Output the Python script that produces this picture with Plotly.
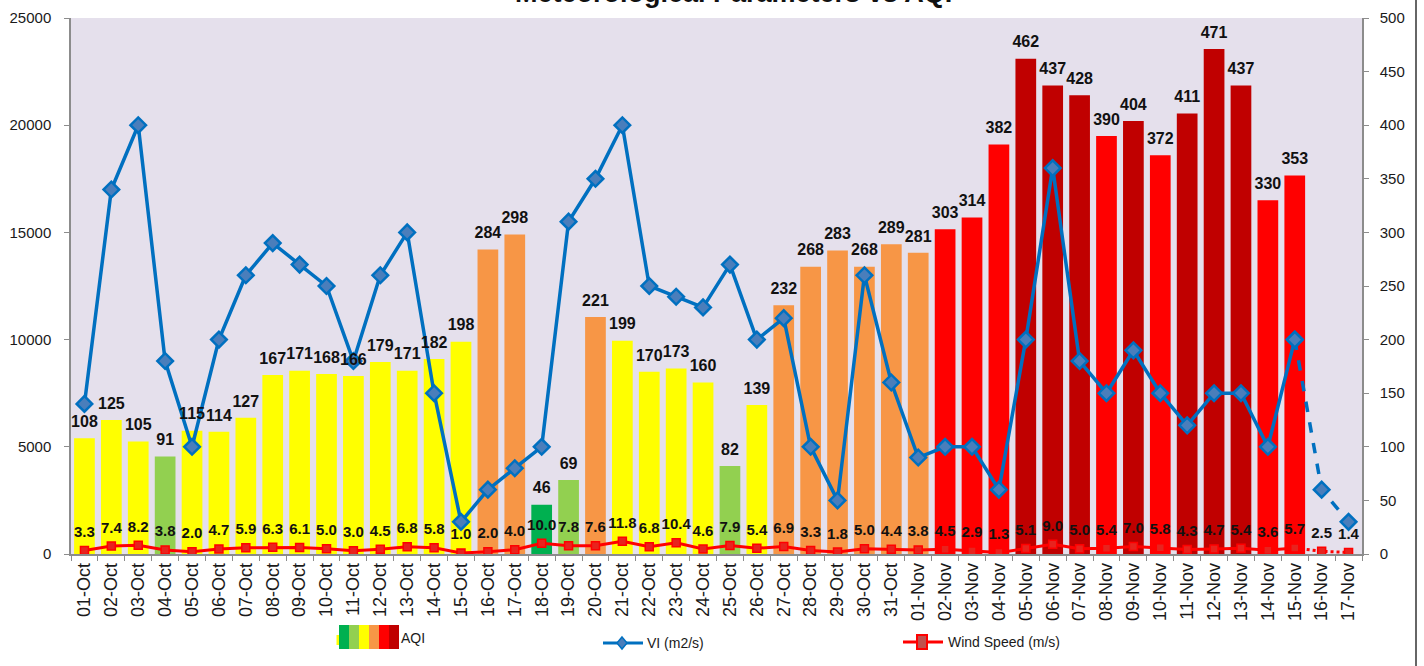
import plotly.graph_objects as go

# ---------------- data ----------------
dates = ["01-Oct", "02-Oct", "03-Oct", "04-Oct", "05-Oct", "06-Oct", "07-Oct", "08-Oct",
         "09-Oct", "10-Oct", "11-Oct", "12-Oct", "13-Oct", "14-Oct", "15-Oct", "16-Oct",
         "17-Oct", "18-Oct", "19-Oct", "20-Oct", "21-Oct", "22-Oct", "23-Oct", "24-Oct",
         "25-Oct", "26-Oct", "27-Oct", "28-Oct", "29-Oct", "30-Oct", "31-Oct",
         "01-Nov", "02-Nov", "03-Nov", "04-Nov", "05-Nov", "06-Nov", "07-Nov", "08-Nov",
         "09-Nov", "10-Nov", "11-Nov", "12-Nov", "13-Nov", "14-Nov", "15-Nov", "16-Nov",
         "17-Nov"]

aqi = [108, 125, 105, 91, 115, 114, 127, 167, 171, 168, 166, 179, 171, 182, 198, 284,
       298, 46, 69, 221, 199, 170, 173, 160, 82, 139, 232, 268, 283, 268, 289,
       281, 303, 314, 382, 462, 437, 428, 390, 404, 372, 411, 471, 437, 330, 353]

vi = [7000, 17000, 20000, 9000, 5000, 10000, 13000, 14500, 13500, 12500, 9000, 13000,
      15000, 7500, 1500, 3000, 4000, 5000, 15500, 17500, 20000, 12500, 12000, 11500,
      13500, 10000, 11000, 5000, 2500, 13000, 8000,
      4500, 5000, 5000, 3000, 10000, 18000, 9000, 7500, 9500, 7500, 6000, 7500, 7500,
      5000, 10000, 3000, 1500]

wind = [3.3, 7.4, 8.2, 3.8, 2.0, 4.7, 5.9, 6.3, 6.1, 5.0, 3.0, 4.5, 6.8, 5.8, 1.0, 2.0,
        4.0, 10.0, 7.8, 7.6, 11.8, 6.8, 10.4, 4.6, 7.9, 5.4, 6.9, 3.3, 1.8, 5.0, 4.4,
        3.8, 4.5, 2.9, 1.3, 5.1, 9.0, 5.0, 5.4, 7.0, 5.8, 4.3, 4.7, 5.4, 3.6, 5.7, 2.5, 1.4]

aqi_band_colors = ["#00B050", "#92D050", "#FFFF00", "#F79646", "#FF0000", "#C00000"]
aqi_band_limits = [50, 100, 200, 300, 400, 500]

title_text = "Meteorological Parameters vs AQI"

# ---------------- styling helpers ----------------
W, H = 1424, 666
L, R, T, B = 71, 62, 18, 112
PW, PH = W - L - R, H - T - B


def px_x(px):
    return (px - L) / PW


def px_y(py):
    return (H - B - py) / PH


def band_color(v):
    for lim, c in zip(aqi_band_limits, aqi_band_colors):
        if v <= lim:
            return c
    return aqi_band_colors[-1]


n_solid = len(aqi)  # observed AQI days; forecast after that

fig = go.Figure()

# AQI bars (right axis -> yaxis)
fig.add_trace(go.Bar(
    x=dates[:n_solid], y=aqi, yaxis="y",
    marker=dict(color=[band_color(v) for v in aqi], line=dict(width=0)),
    showlegend=False, hoverinfo="x+y", name="AQI"))

# Wind speed (right axis)
fig.add_trace(go.Scatter(
    x=dates[:n_solid], y=wind[:n_solid], yaxis="y", mode="lines+markers",
    line=dict(color="#FF0000", width=3),
    marker=dict(symbol="square", size=8, color="#E8231E", line=dict(color="#FF0000", width=1.5)),
    showlegend=False, name="Wind Speed (m/s)"))
fig.add_trace(go.Scatter(
    x=dates[n_solid - 1:], y=wind[n_solid - 1:], yaxis="y", mode="lines+markers",
    line=dict(color="#FF0000", width=3, dash="dot"),
    marker=dict(symbol="square", size=8, color="#E8231E", line=dict(color="#FF0000", width=1.5)),
    showlegend=False, name="Wind Speed (m/s)"))

# VI (left axis -> yaxis2)
fig.add_trace(go.Scatter(
    x=dates[:n_solid], y=vi[:n_solid], yaxis="y2", mode="lines+markers",
    line=dict(color="#0070C0", width=3.5),
    marker=dict(symbol="diamond", size=12, color="#4A7EBB", line=dict(color="#0070C0", width=2.5)),
    showlegend=False, name="VI (m2/s)"))
fig.add_trace(go.Scatter(
    x=dates[n_solid - 1:], y=vi[n_solid - 1:], yaxis="y2", mode="lines+markers",
    line=dict(color="#0070C0", width=3.5, dash="dash"),
    marker=dict(symbol="diamond", size=12, color="#4A7EBB", line=dict(color="#0070C0", width=2.5)),
    showlegend=False, name="VI (m2/s)"))

# Labels (top layer, yaxis3 same scale as AQI)
fig.add_trace(go.Scatter(
    x=dates[:n_solid], y=aqi, yaxis="y3", mode="markers+text",
    text=[str(v) for v in aqi], textposition="top center",
    textfont=dict(family="Liberation Sans", size=16, color="#111111", weight="bold"),
    marker=dict(size=10, opacity=0), cliponaxis=False,
    showlegend=False, hoverinfo="skip"))
fig.add_trace(go.Scatter(
    x=dates, y=wind, yaxis="y3", mode="markers+text",
    text=["%.1f" % v for v in wind], textposition="top center",
    textfont=dict(family="Liberation Sans", size=15, color="#111111", weight="bold"),
    marker=dict(size=14, opacity=0), cliponaxis=False,
    showlegend=False, hoverinfo="skip"))

axis_line = "#8C8C8C"
tick_font = dict(family="Liberation Sans", size=15, color="#1A1A1A")

fig.update_layout(
    width=W, height=H,
    margin=dict(l=L, r=R, t=T, b=B, pad=0, autoexpand=False),
    paper_bgcolor="white", plot_bgcolor="#E5E0EC",
    bargap=0.23,
    showlegend=False,
    xaxis=dict(type="category", categoryorder="array", categoryarray=dates,
               range=[-0.5, len(dates) - 0.5], automargin=False,
               showgrid=False, zeroline=False, showline=True, linecolor=axis_line, linewidth=1.5,
               ticks="outside", tickson="boundaries", ticklen=5, tickcolor=axis_line,
               tickangle=-90, tickfont=dict(family="Liberation Sans", size=18, color="#1A1A1A")),
    yaxis=dict(range=[0, 500], dtick=50, side="right", showgrid=False, zeroline=False,
               showline=True, linecolor=axis_line, linewidth=1.5, ticks="outside", ticklen=5,
               tickcolor=axis_line, tickfont=tick_font, ticklabelstandoff=8, tickformat="d",
               automargin=False),
    yaxis2=dict(range=[0, 25000], dtick=5000, side="left", overlaying="y", showgrid=False,
                zeroline=False, showline=True, linecolor=axis_line, linewidth=1.5,
                ticks="outside", ticklen=5, tickcolor=axis_line, tickfont=tick_font,
                ticklabelstandoff=10, tickformat="d", automargin=False),
    yaxis3=dict(range=[0, 500], overlaying="y", visible=False),
)

# Title (partly cut at top, as in the reference)
annotations = [dict(text="<b>" + title_text + "</b>", xref="paper", yref="paper",
                    x=px_x(733), y=px_y(-7.5), xanchor="center", yanchor="middle",
                    showarrow=False, font=dict(family="Liberation Sans", size=27, color="#111111"))]

legend_font = dict(family="Liberation Sans", size=14, color="#1A1A1A")
shapes = []

# AQI legend: colour strip
shapes.append(dict(type="rect", xref="paper", yref="paper",
                   x0=px_x(336.5), x1=px_x(339.5), y0=px_y(645), y1=px_y(635),
                   fillcolor="#FFFF00", line=dict(width=0)))
for i, c in enumerate(aqi_band_colors):
    shapes.append(dict(type="rect", xref="paper", yref="paper",
                       x0=px_x(339 + 10 * i), x1=px_x(349 + 10 * i), y0=px_y(649), y1=px_y(625),
                       fillcolor=c, line=dict(width=0)))
annotations.append(dict(text="AQI", xref="paper", yref="paper", x=px_x(399), y=px_y(638),
                        xanchor="left", yanchor="middle", showarrow=False, font=legend_font))

# VI legend
shapes.append(dict(type="line", xref="paper", yref="paper", x0=px_x(603), x1=px_x(643),
                   y0=px_y(643), y1=px_y(643), line=dict(color="#0070C0", width=3)))
cx, cy = 622, 643
shapes.append(dict(type="path", xref="paper", yref="paper",
                   path="M %f %f L %f %f L %f %f L %f %f Z" % (
                       px_x(cx), px_y(cy - 6), px_x(cx + 5), px_y(cy),
                       px_x(cx), px_y(cy + 6), px_x(cx - 5), px_y(cy)),
                   fillcolor="#4A7EBB", line=dict(color="#0070C0", width=1.5)))
annotations.append(dict(text="VI (m2/s)", xref="paper", yref="paper", x=px_x(645), y=px_y(643),
                        xanchor="left", yanchor="middle", showarrow=False, font=legend_font))

# Wind legend
shapes.append(dict(type="line", xref="paper", yref="paper", x0=px_x(903), x1=px_x(943),
                   y0=px_y(642), y1=px_y(642), line=dict(color="#FF0000", width=3)))
shapes.append(dict(type="rect", xref="paper", yref="paper", x0=px_x(917), x1=px_x(927),
                   y0=px_y(649), y1=px_y(635), fillcolor="#C0504D",
                   line=dict(color="#FF0000", width=2)))
annotations.append(dict(text="Wind Speed (m/s)", xref="paper", yref="paper", x=px_x(946),
                        y=px_y(642), xanchor="left", yanchor="middle", showarrow=False,
                        font=legend_font))

# outer right border of chart
shapes.append(dict(type="line", xref="paper", yref="paper", x0=px_x(1416), x1=px_x(1416),
                   y0=px_y(H + 2), y1=px_y(-2), line=dict(color="#333333", width=1.5)))

fig.update_layout(annotations=annotations, shapes=shapes)

fig.write_html("out.html", config={"displayModeBar": False},
               post_script="document.body.style.margin='0';document.body.style.overflow='hidden';")
